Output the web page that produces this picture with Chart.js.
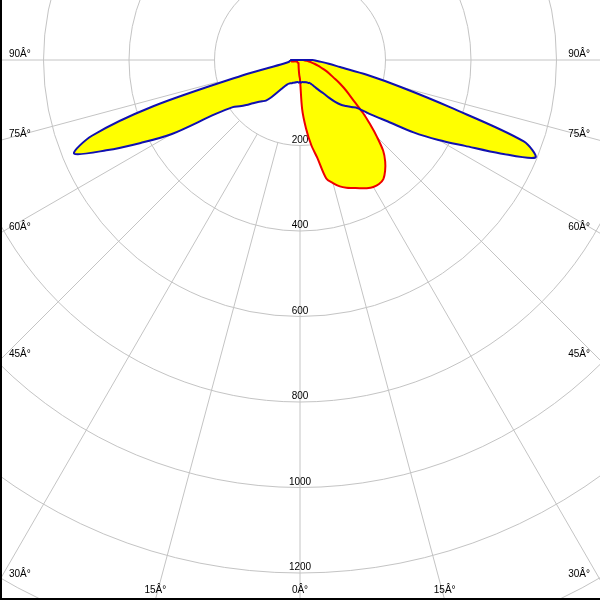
<!DOCTYPE html>
<html>
<head>
<meta charset="utf-8">
<script src="https://cdn.jsdelivr.net/npm/chart.js@4"></script>
<style>
  body { margin: 0; background: #fff; }
  canvas { display: block; }
</style>
</head>
<body>
<canvas id="polar" width="600" height="600"></canvas>
<script>
// angles (deg, 0 = straight down) and luminous intensity (cd) per plane
const ANGLES = [
  -90, -87.5, -85, -82.5, -80, -77.5, -75, -72.5, -70, -67.5, -65, -62.5,
  -60, -57.5, -55, -52.5, -50, -47.5, -45, -42.5, -40, -37.5, -35, -32.5,
  -30, -27.5, -25, -22.5, -20, -17.5, -15, -12.5, -10, -7.5, -5, -2.5,
  0, 2.5, 5, 7.5, 10, 12.5, 15, 17.5, 20, 22.5, 25, 27.5,
  30, 32.5, 35, 37.5, 40, 42.5, 45, 47.5, 50, 52.5, 55, 57.5,
  60, 62.5, 65, 67.5, 70, 72.5, 75, 77.5, 80, 82.5, 85, 87.5, 90
];
// C0-C180 plane (blue)
const BLUE_CD = [
  23, 23, 24, 25, 27, 40, 140, 360, 518, 572, 500, 420,
  346, 237, 192, 178, 164, 150, 139, 131, 124, 110, 93, 80,
  70, 64, 61, 59, 58, 56, 55, 54, 53, 52, 52, 53,
  51, 53, 52, 52, 53, 53, 54, 55, 57, 58, 62, 68,
  76, 85, 95, 111, 128, 142, 152, 163, 175, 210, 251, 315,
  374, 435, 517, 596, 557, 369, 244, 160, 95, 68, 50, 38, 30
];
// C90-C270 plane (red)
const RED_CD = [
  22, 21, 20, 20, 20, 16, 12, 11, 10, 9, 9, 8,
  8, 8, 8, 8, 8, 8, 8, 8, 8, 8, 8, 8,
  8, 8, 8, 9, 10, 11, 13, 15, 18, 22, 28, 36,
  45, 115, 160, 200, 232, 284, 298, 310, 318, 324, 331, 338,
  343, 344, 340, 327, 310, 288, 255, 222, 192, 161, 140, 122,
  105, 88, 76, 65, 53, 44, 36, 28, 21, 16, 12, 9, 7
];
const RING_VALUES = [200, 400, 600, 800, 1000, 1200, 1400, 1600];
const RING_LABELS = ["200", "400", "600", "800", "1000", "1200"];
const ANGLE_TICKS = [-90, -75, -60, -45, -30, -15, 0, 15, 30, 45, 60, 75, 90];

// 0.4275 px per cd, centre at (300, 60)
const K = 0.4275;

function toXY(angles, values) {
  const pts = angles.map((a, i) => {
    const t = a * Math.PI / 180;
    return { x: values[i] * Math.sin(t), y: -values[i] * Math.cos(t) };
  });
  pts.push(pts[0]); // close the curve
  return pts;
}

const bluePts = toXY(ANGLES, BLUE_CD);
const redPts = toXY(ANGLES, RED_CD);

const FONT = "10px 'Liberation Sans', Arial, sans-serif";

// grid: rings, radial lines and labels
const polarGrid = {
  id: "polarGrid",
  beforeDraw(chart) {
    const c = chart.ctx;
    c.save();
    c.fillStyle = "#fff";
    c.fillRect(0, 0, chart.width, chart.height);
    c.restore();
  },
  beforeDatasetsDraw(chart) {
    const c = chart.ctx, xs = chart.scales.x, ys = chart.scales.y;
    const cx = xs.getPixelForValue(0), cy = ys.getPixelForValue(0);
    const rad = v => xs.getPixelForValue(v) - cx;
    const W = chart.width, H = chart.height;
    c.save();
    c.strokeStyle = "#c4c4c4";
    c.lineWidth = 1;
    RING_VALUES.forEach(v => {
      c.beginPath();
      c.arc(cx, cy, rad(v), 0, Math.PI * 2);
      c.stroke();
    });
    const r0 = rad(RING_VALUES[0]), r1 = rad(3000);
    ANGLE_TICKS.forEach(a => {
      const t = a * Math.PI / 180, s = Math.sin(t), co = Math.cos(t);
      c.beginPath();
      c.moveTo(cx + r0 * s, cy + r0 * co);
      c.lineTo(cx + r1 * s, cy + r1 * co);
      c.stroke();
    });
    c.fillStyle = "#000";
    c.font = FONT;
    // angle labels where the radial lines leave the picture
    ANGLE_TICKS.forEach(a => {
      const t = a * Math.PI / 180, s = Math.sin(t), co = Math.cos(t);
      const tSide = s === 0 ? Infinity : (s < 0 ? cx : W - cx) / Math.abs(s);
      const tBot = co <= 1e-9 ? Infinity : (H - cy) / co;
      const txt = Math.abs(a) + "Â°";
      if (tSide < tBot) {
        const y = cy + tSide * co;
        c.textAlign = s < 0 ? "left" : "right";
        c.fillText(txt, s < 0 ? 9 : W - 10, y - 3);
      } else {
        c.textAlign = "center";
        c.fillText(txt, cx + tBot * s, H - 7);
      }
    });
    c.textAlign = "center";
    RING_LABELS.forEach((l, i) => {
      c.fillText(l, cx, cy + rad(RING_VALUES[i]) - 3);
    });
    c.restore();
  },
  afterDraw(chart) {
    const c = chart.ctx;
    c.save();
    c.fillStyle = "#000";
    c.fillRect(0, 0, 2, chart.height);
    c.fillRect(0, chart.height - 2, chart.width, 2);
    c.restore();
  }
};

const base = { showLine: true, pointRadius: 0, tension: 0.3 };

new Chart(document.getElementById("polar"), {
  type: "scatter",
  data: {
    datasets: [
      { ...base, label: "C0-C180 fill", data: bluePts, fill: "shape",
        backgroundColor: "#ffff00", borderColor: "rgba(0,0,0,0)", borderWidth: 0, order: 4 },
      { ...base, label: "C90-C270 fill", data: redPts, fill: "shape",
        backgroundColor: "#ffff00", borderColor: "rgba(0,0,0,0)", borderWidth: 0, order: 3 },
      { ...base, label: "C90-C270", data: redPts, fill: false,
        borderColor: "#ee0000", borderWidth: 2, order: 2 },
      { ...base, label: "C0-C180", data: bluePts, fill: false,
        borderColor: "#1010b0", borderWidth: 2, order: 1 }
    ]
  },
  options: {
    responsive: false,
    animation: false,
    layout: { padding: 0 },
    plugins: { legend: { display: false }, tooltip: { enabled: false } },
    scales: {
      x: { type: "linear", display: false, min: -300 / K, max: 300 / K },
      y: { type: "linear", display: false, min: -540 / K, max: 60 / K }
    }
  },
  plugins: [polarGrid]
});
</script>
</body>
</html>
